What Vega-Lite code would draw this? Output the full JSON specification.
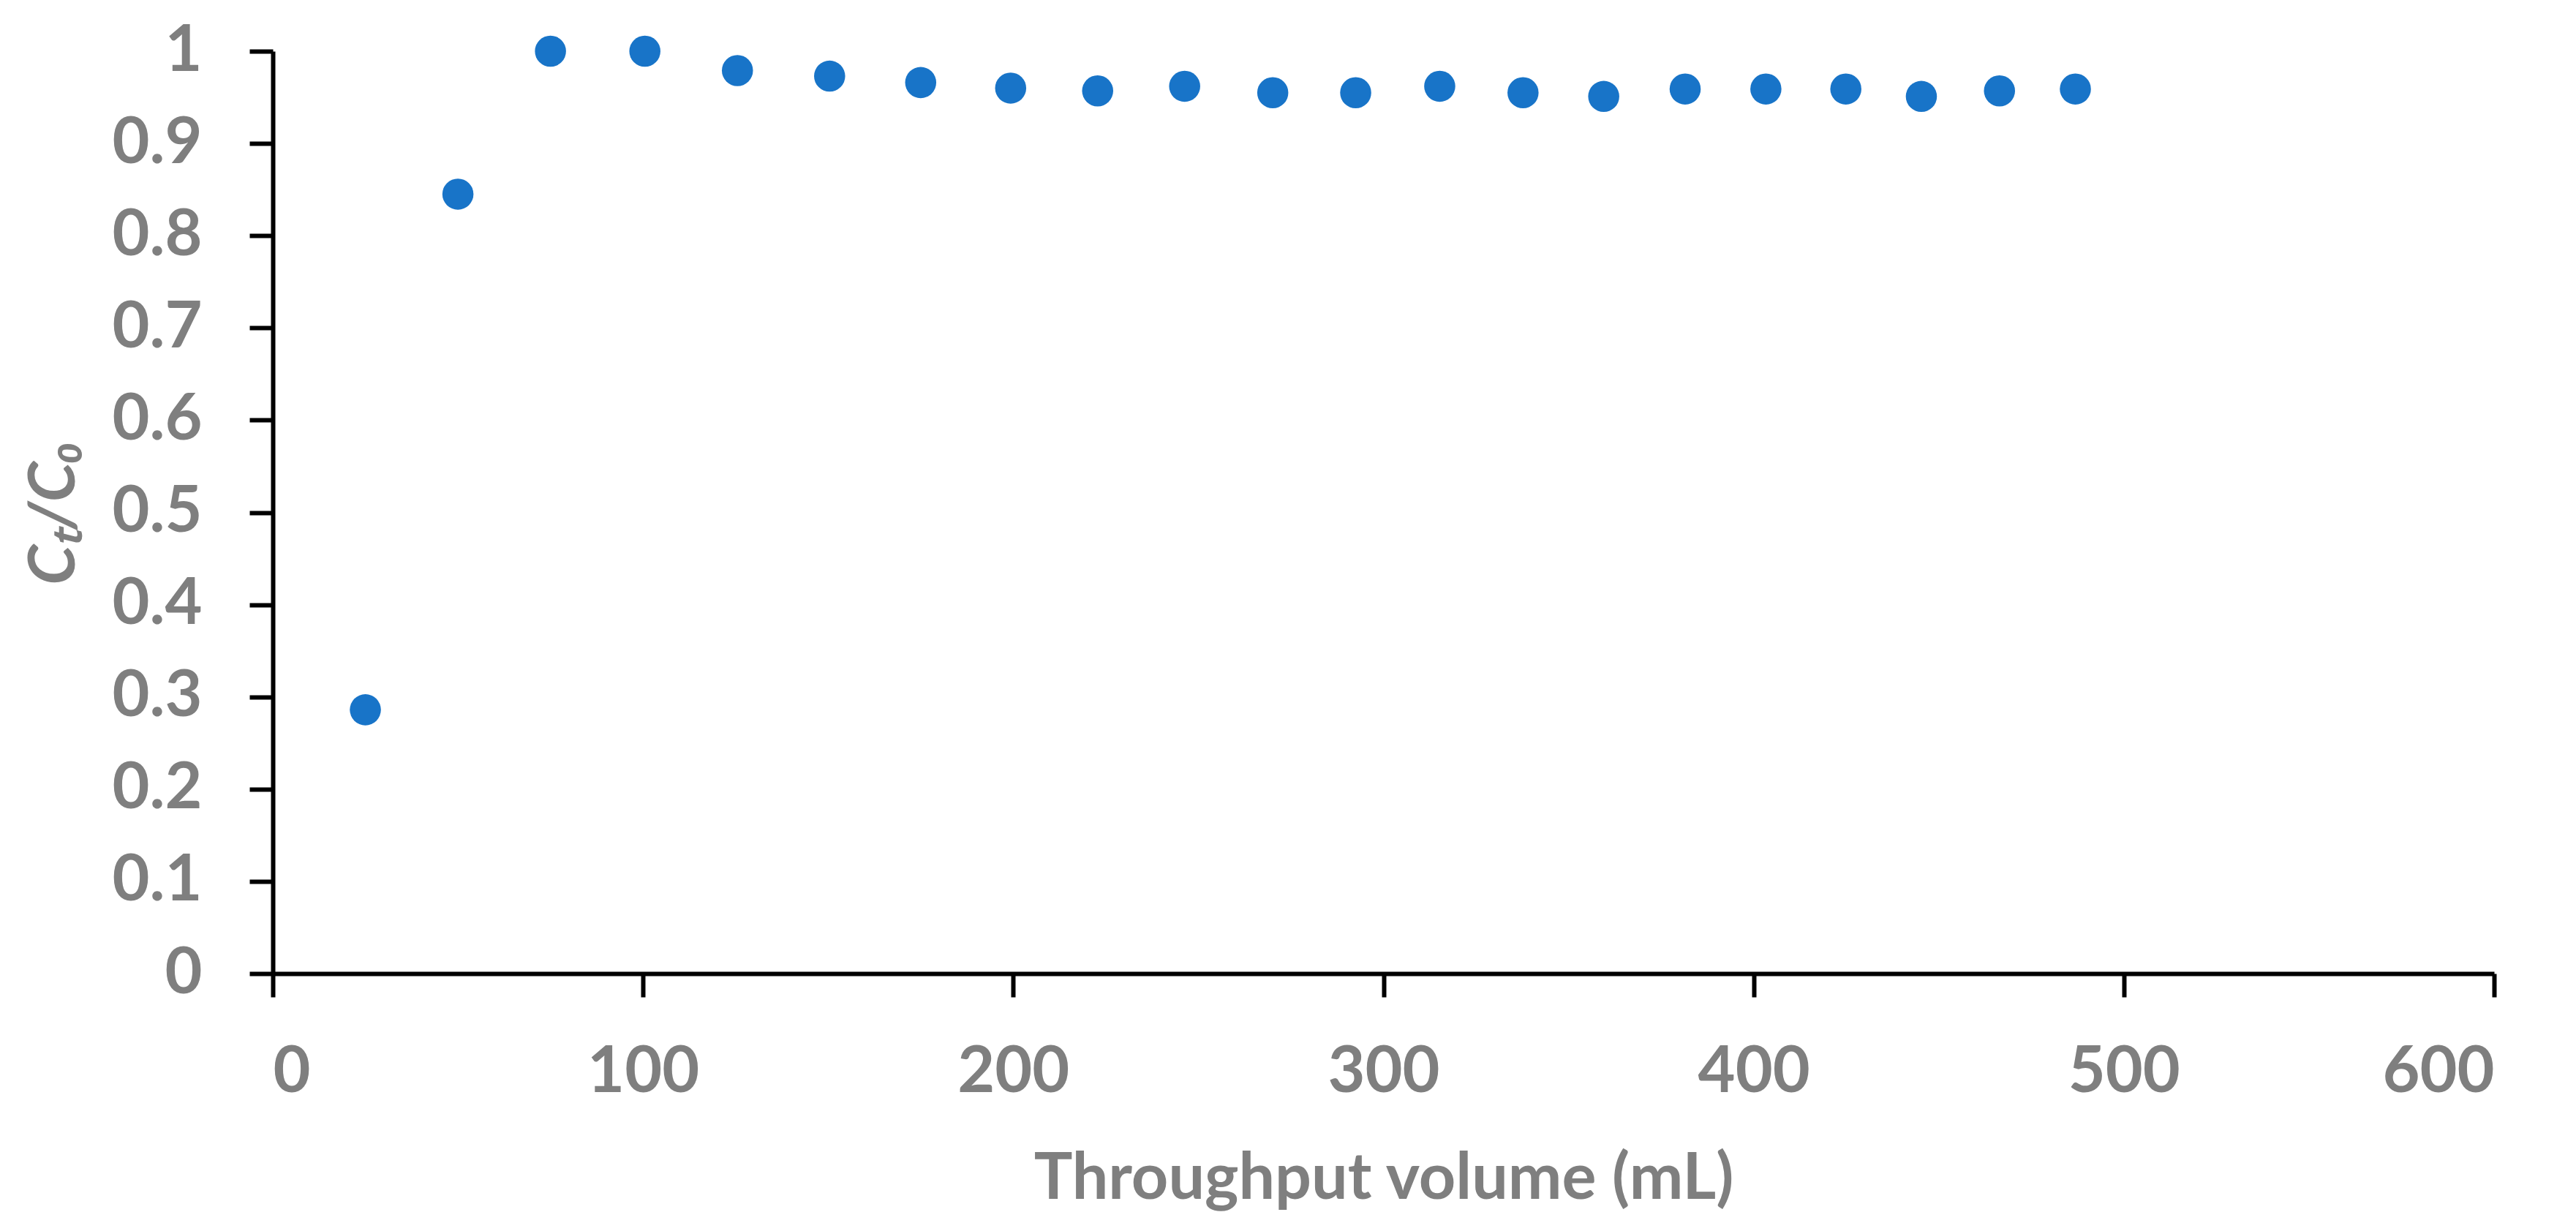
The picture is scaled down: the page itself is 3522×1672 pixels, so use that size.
{
  "$schema": "https://vega.github.io/schema/vega-lite/v6.json",
  "autosize": {"type": "none"},
  "padding": {"left": 373, "top": 70, "right": 112, "bottom": 341},
  "width": 3037,
  "height": 1261,
  "background": "white",
  "view": {"stroke": null},
  "config": {
    "font": "Lato",
    "axis": {
      "grid": false,
      "domainColor": "black",
      "domainWidth": 6,
      "tickColor": "black",
      "tickWidth": 6,
      "tickSize": 32,
      "labelFont": "Lato",
      "labelFontWeight": "bold",
      "labelFontSize": 88,
      "labelColor": "#7F7F7F",
      "titleFont": "Lato",
      "titleFontWeight": "bold",
      "titleFontSize": 88,
      "titleColor": "#7F7F7F"
    }
  },
  "data": {
    "values": [
      {"volume": 25, "ratio": 0.286},
      {"volume": 50, "ratio": 0.845},
      {"volume": 75, "ratio": 1.0},
      {"volume": 100.5, "ratio": 1.0},
      {"volume": 125.5, "ratio": 0.979},
      {"volume": 150.4, "ratio": 0.973},
      {"volume": 175, "ratio": 0.966},
      {"volume": 199.3, "ratio": 0.96},
      {"volume": 222.8, "ratio": 0.957},
      {"volume": 246.3, "ratio": 0.962},
      {"volume": 270.1, "ratio": 0.955},
      {"volume": 292.5, "ratio": 0.955},
      {"volume": 315.2, "ratio": 0.962},
      {"volume": 337.7, "ratio": 0.955},
      {"volume": 359.5, "ratio": 0.951},
      {"volume": 381.5, "ratio": 0.959},
      {"volume": 403.3, "ratio": 0.959},
      {"volume": 424.9, "ratio": 0.959},
      {"volume": 445.3, "ratio": 0.951},
      {"volume": 466.4, "ratio": 0.957},
      {"volume": 486.9, "ratio": 0.959}
    ]
  },
  "mark": {"type": "point", "shape": "circle", "filled": true, "opacity": 1, "size": 1810, "color": "#1874C8"},
  "encoding": {
    "x": {
      "field": "volume",
      "type": "quantitative",
      "scale": {"domain": [0, 600], "nice": false, "zero": false},
      "axis": {
        "title": "Throughput volume (mL)",
        "values": [0, 100, 200, 300, 400, 500, 600],
        "format": "d",
        "labelPadding": 59,
        "titleY": 237
      }
    },
    "y": {
      "field": "ratio",
      "type": "quantitative",
      "scale": {"domain": [0, 1], "nice": false, "zero": false},
      "axis": {
        "title": "Cₜ/C₀",
        "titleFontStyle": "italic",
        "values": [0, 0.1, 0.2, 0.3, 0.4, 0.5, 0.6, 0.7, 0.8, 0.9, 1],
        "format": ".1~f",
        "labelPadding": 65,
        "titleX": -254
      }
    }
  }
}
